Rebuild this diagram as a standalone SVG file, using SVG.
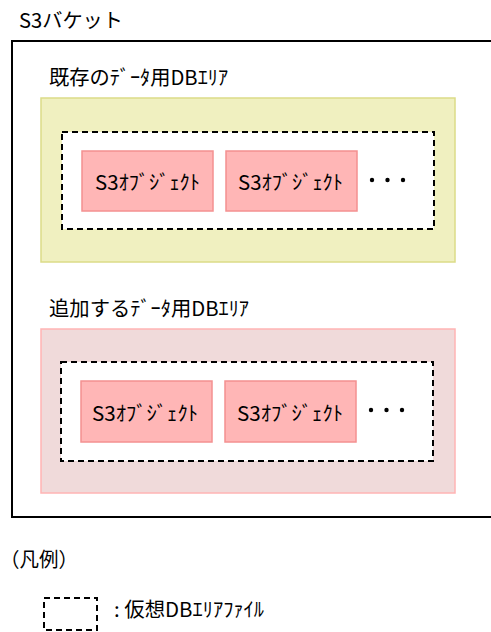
<svg xmlns="http://www.w3.org/2000/svg" width="491" height="632" viewBox="0 0 491 632">
<style>
text{font-family:"Noto Sans CJK JP","Noto Sans",sans-serif;font-size:20px;fill:#000}
.bucket{fill:#fff;stroke:#000;stroke-width:2}
.area1{fill:#f0f0c0;stroke:#dcdc88;stroke-width:1.5}
.area2{fill:#f0dada;stroke:#ffb4b4;stroke-width:1.5}
.file{fill:#fff;stroke:#000;stroke-width:2;stroke-dasharray:6 4}
.obj{fill:#ffb6b6;stroke:#f49090;stroke-width:1.5}
.dot{fill:#000}
</style>
<g id="bucket">
<text x="19" y="28" textLength="104" lengthAdjust="spacingAndGlyphs">S3バケット</text>
<rect class="bucket" x="12" y="41" width="490" height="476"/>
</g>
<g id="area-existing">
<text x="49" y="85" textLength="179" lengthAdjust="spacingAndGlyphs">既存のﾃﾞｰﾀ用DBｴﾘｱ</text>
<rect class="area1" x="41" y="98" width="414" height="164"/>
<rect class="file" x="62" y="132" width="372" height="97"/>
<g id="obj1"><rect class="obj" x="82" y="151" width="131" height="60"/><text x="95" y="190" textLength="105" lengthAdjust="spacingAndGlyphs">S3ｵﾌﾞｼﾞｪｸﾄ</text></g>
<g id="obj2"><rect class="obj" x="226" y="151" width="131" height="60"/><text x="238" y="190" textLength="105" lengthAdjust="spacingAndGlyphs">S3ｵﾌﾞｼﾞｪｸﾄ</text></g>
<circle class="dot" cx="372" cy="180" r="2.2"/><circle class="dot" cx="387.5" cy="180" r="2.2"/><circle class="dot" cx="403" cy="180" r="2.2"/>
</g>
<g id="area-added">
<text x="49" y="316" textLength="200" lengthAdjust="spacingAndGlyphs">追加するﾃﾞｰﾀ用DBｴﾘｱ</text>
<rect class="area2" x="41" y="329" width="414" height="164"/>
<rect class="file" x="61" y="362" width="372" height="99"/>
<g id="obj3"><rect class="obj" x="81" y="381" width="131" height="61"/><text x="92" y="421" textLength="106" lengthAdjust="spacingAndGlyphs">S3ｵﾌﾞｼﾞｪｸﾄ</text></g>
<g id="obj4"><rect class="obj" x="225" y="381" width="131" height="61"/><text x="237" y="421" textLength="106" lengthAdjust="spacingAndGlyphs">S3ｵﾌﾞｼﾞｪｸﾄ</text></g>
<circle class="dot" cx="371" cy="410" r="2.2"/><circle class="dot" cx="386.5" cy="410" r="2.2"/><circle class="dot" cx="402" cy="410" r="2.2"/>
</g>
<g id="legend">
<text x="0" y="567" textLength="78" lengthAdjust="spacingAndGlyphs">（凡例）</text>
<rect class="file" x="44" y="598" width="53" height="32"/>
<text x="114" y="617" textLength="150" lengthAdjust="spacingAndGlyphs">: 仮想DBｴﾘｱﾌｧｲﾙ</text>
</g>
<g id="connectors"/>
</svg>
